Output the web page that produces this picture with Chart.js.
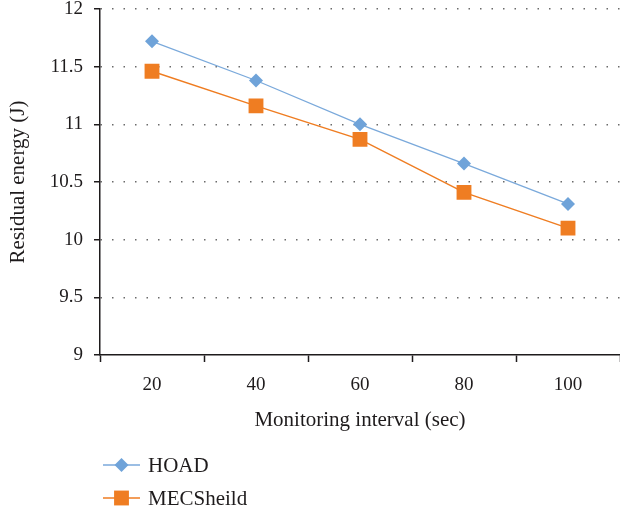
<!DOCTYPE html>
<html>
<head>
<meta charset="utf-8">
<script src="https://cdn.jsdelivr.net/npm/chart.js@4/dist/chart.umd.min.js"></script>
<style>
  html, body { margin: 0; padding: 0; background: #fff; }
  #wrap { width: 620px; height: 513px; position: relative; }
</style>
</head>
<body>
<div id="wrap"><canvas id="chart"></canvas></div>
<script>
// Monitoring interval categories (seconds)
const intervals = ['20', '40', '60', '80', '100'];
// Residual energy (J) per scheme
const hoadEnergy = [11.72, 11.38, 11.00, 10.66, 10.31];
const mecSheildEnergy = [11.46, 11.16, 10.87, 10.41, 10.10];
const seriesNames = ['HOAD', 'MECSheild'];
// Energy axis range and step
const energyMin = 9;
const energyMax = 12;
const energyStep = 0.5;

const FONT = "'Liberation Serif', 'Times New Roman', serif";
const INK = '#1e1b1c';

// Legend drawn as a vertical list: line segment with marker, then name
const seriesKey = {
  id: 'seriesKey',
  afterDraw(chart, args, opts) {
    const ctx = chart.ctx;
    chart.data.datasets.forEach((ds, i) => {
      const y = opts.top + i * opts.rowGap;
      const x0 = opts.left, x1 = opts.left + opts.lineLen, xm = (x0 + x1) / 2;
      ctx.save();
      ctx.strokeStyle = ds.borderColor;
      ctx.lineWidth = ds.borderWidth;
      ctx.beginPath();
      ctx.moveTo(x0, y);
      ctx.lineTo(x1, y);
      ctx.stroke();
      ctx.fillStyle = ds.pointBackgroundColor;
      ctx.beginPath();
      const r = ds.pointRadius;
      if (ds.pointStyle === 'rectRot') {
        ctx.moveTo(xm, y - r);
        ctx.lineTo(xm + r, y);
        ctx.lineTo(xm, y + r);
        ctx.lineTo(xm - r, y);
        ctx.closePath();
      } else {
        const s = Math.SQRT1_2 * r;
        ctx.rect(xm - s, y - s, 2 * s, 2 * s);
      }
      ctx.fill();
      ctx.fillStyle = INK;
      ctx.font = opts.font;
      ctx.textAlign = 'left';
      ctx.textBaseline = 'middle';
      ctx.fillText(ds.label, x1 + opts.gap, y + 1);
      ctx.restore();
    });
  }
};

new Chart(document.getElementById('chart'), {
  type: 'line',
  data: {
    labels: intervals,
    datasets: [
      {
        label: seriesNames[0],
        data: hoadEnergy,
        borderColor: '#7aa9db',
        borderWidth: 1.3,
        pointStyle: 'rectRot',
        pointRadius: 7,
        pointHoverRadius: 7,
        pointBackgroundColor: '#6fa3d9',
        pointBorderWidth: 0,
        tension: 0
      },
      {
        label: seriesNames[1],
        data: mecSheildEnergy,
        borderColor: '#ef7d22',
        borderWidth: 1.5,
        pointStyle: 'rect',
        pointRadius: 10.5,
        pointHoverRadius: 10.5,
        pointBackgroundColor: '#ef7d22',
        pointBorderWidth: 0,
        tension: 0
      }
    ]
  },
  options: {
    responsive: true,
    maintainAspectRatio: false,
    animation: false,
    layout: { autoPadding: false, padding: { top: 9, right: 0, bottom: 80, left: 0 } },
    plugins: {
      legend: { display: false },
      tooltip: { enabled: false },
      seriesKey: { left: 103, top: 465, rowGap: 33, lineLen: 37, gap: 8, font: "21px " + FONT }
    },
    scales: {
      x: {
        offset: true,
        grid: {
          display: true,
          offset: true,
          drawOnChartArea: false,
          drawTicks: true,
          tickLength: 7,
          tickColor: INK,
          tickWidth: 1.5,
          tickBorderDash: []
        },
        border: { display: true, color: INK, width: 1.5 },
        ticks: { color: INK, font: { family: FONT, size: 19 }, padding: 12 },
        title: {
          display: true,
          text: 'Monitoring interval (sec)',
          color: INK,
          font: { family: FONT, size: 21 },
          padding: { top: 8, bottom: 0 }
        },
        afterFit(scale) {
          scale.paddingLeft = 0;
          scale.paddingRight = 0;
          scale.height = 78;
        }
      },
      y: {
        min: energyMin,
        max: energyMax,
        ticks: {
          stepSize: energyStep,
          color: INK,
          font: { family: FONT, size: 19 },
          padding: 11,
          callback: v => String(v)
        },
        grid: {
          color: ctx => (ctx.tick && ctx.tick.value === energyMin) ? 'rgba(0,0,0,0)' : '#6a6a6a',
          lineWidth: 1.5,
          drawTicks: true,
          tickLength: 6,
          tickColor: INK,
          tickWidth: 1.5,
          tickBorderDash: []
        },
        border: { display: true, color: INK, width: 1.5, dash: [1.5, 10] },
        title: {
          display: true,
          text: 'Residual energy (J)',
          color: INK,
          font: { family: FONT, size: 21 },
          padding: { top: 6, bottom: 4 }
        },
        afterFit(scale) {
          scale.width = 100;
          scale.paddingTop = 0;
          scale.paddingBottom = 0;
        }
      }
    }
  },
  plugins: [seriesKey]
});
</script>
</body>
</html>
